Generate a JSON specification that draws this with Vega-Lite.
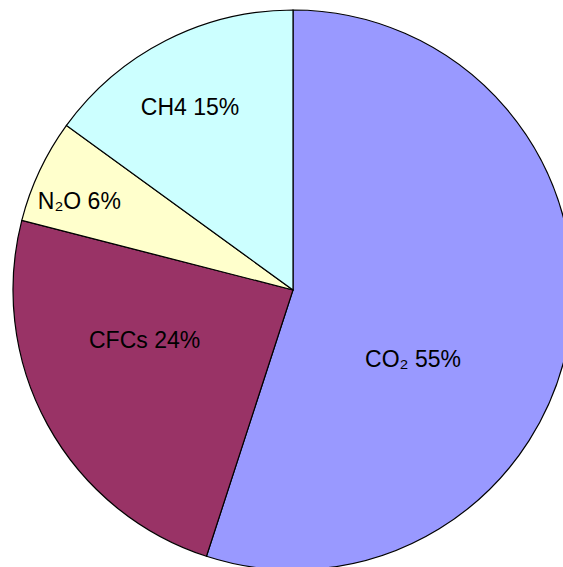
{
  "$schema": "https://vega.github.io/schema/vega-lite/v6.json",
  "autosize": "none",
  "padding": 0,
  "width": 586,
  "height": 580,
  "background": "white",
  "config": {"view": {"stroke": null}},
  "data": {"values": [
    {"gas": "CO₂", "pct": 55, "order": 1},
    {"gas": "CFCs", "pct": 24, "order": 2},
    {"gas": "N₂O", "pct": 6, "order": 3},
    {"gas": "CH4", "pct": 15, "order": 4}
  ]},
  "transform": [{"calculate": "datum.gas + ' ' + datum.pct + '%'", "as": "label"}],
  "encoding": {
    "theta": {"field": "pct", "type": "quantitative", "stack": true},
    "order": {"field": "order", "type": "quantitative"}
  },
  "layer": [
    {
      "mark": {"type": "arc", "outerRadius": 280, "stroke": "black", "strokeWidth": 1.2},
      "encoding": {
        "color": {"field": "gas", "type": "nominal",
          "scale": {"domain": ["CO₂", "CFCs", "N₂O", "CH4"], "range": ["#9999FF", "#993366", "#FFFFCC", "#CCFFFF"]},
          "legend": null}
      }
    },
    {
      "mark": {"type": "text", "radius": 139, "thetaOffset": 0.372, "font": "Liberation Sans", "fontSize": 23, "color": "black"},
      "encoding": {"text": {"field": "label"}, "opacity": {"condition": {"test": "datum.order == 1", "value": 1}, "value": 0}}
    },
    {
      "mark": {"type": "text", "radius": 157, "thetaOffset": 0.17, "font": "Liberation Sans", "fontSize": 23, "color": "black"},
      "encoding": {"text": {"field": "label"}, "opacity": {"condition": {"test": "datum.order == 2", "value": 1}, "value": 0}}
    },
    {
      "mark": {"type": "text", "radius": 231, "thetaOffset": -0.05, "font": "Liberation Sans", "fontSize": 23, "color": "black"},
      "encoding": {"text": {"field": "label"}, "opacity": {"condition": {"test": "datum.order == 3", "value": 1}, "value": 0}}
    },
    {
      "mark": {"type": "text", "radius": 209, "thetaOffset": -0.044, "font": "Liberation Sans", "fontSize": 23, "color": "black"},
      "encoding": {"text": {"field": "label"}, "opacity": {"condition": {"test": "datum.order == 4", "value": 1}, "value": 0}}
    }
  ]
}
